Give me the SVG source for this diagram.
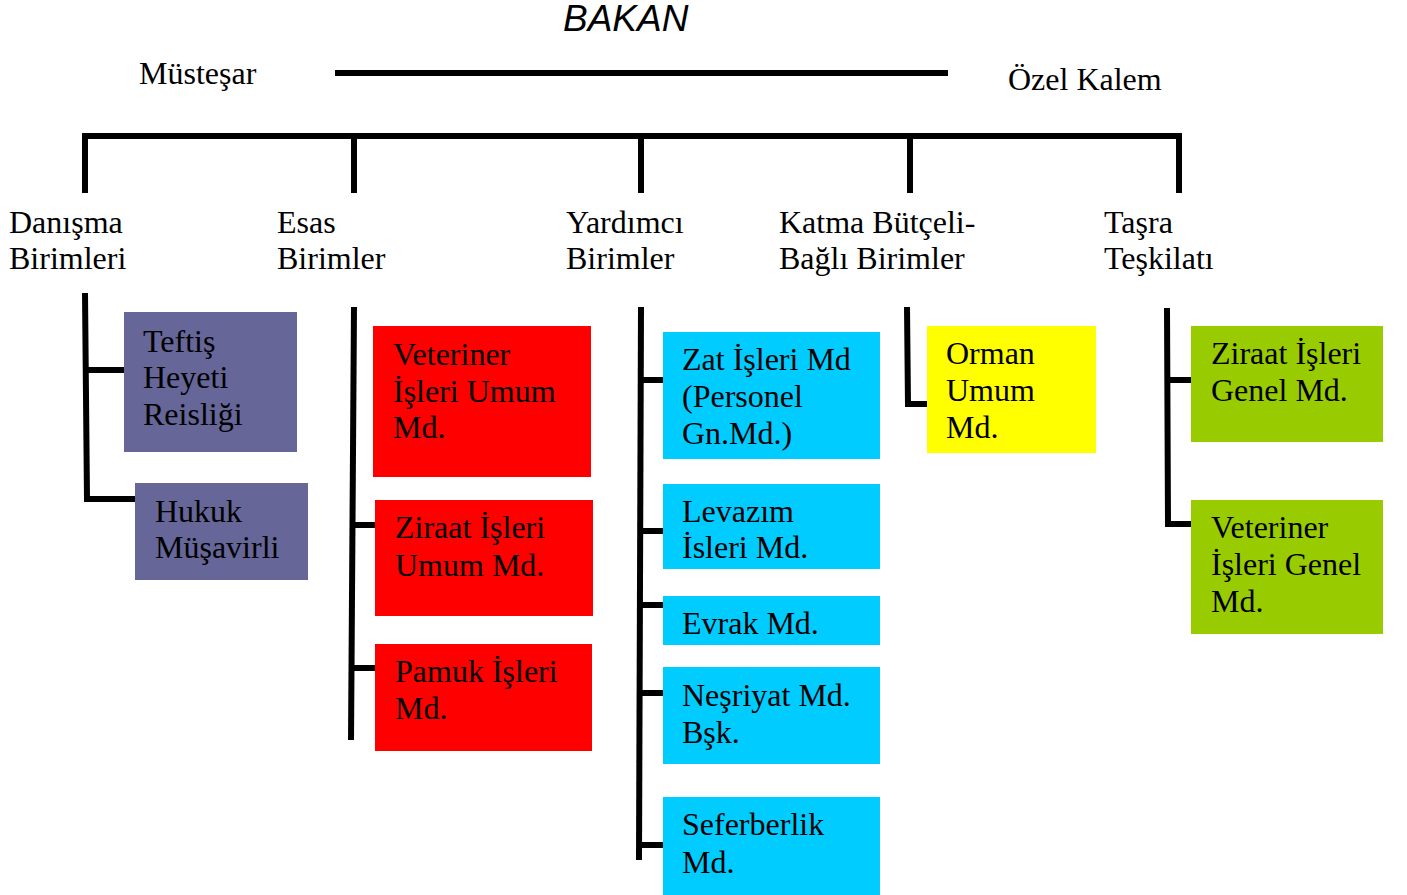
<svg xmlns="http://www.w3.org/2000/svg" width="1407" height="895" viewBox="0 0 1407 895">
<style>
.t{font-family:"Liberation Serif","Times New Roman",serif;font-size:32px;fill:#000}
.b{font-family:"Liberation Sans",Arial,sans-serif;font-size:37px;font-style:italic;fill:#000}
.ln{stroke:#000;stroke-width:6;fill:none;stroke-linecap:butt;stroke-linejoin:miter}
.pu{fill:#666699}.rd{fill:#FF0000}.bl{fill:#00CCFF}.ye{fill:#FFFF00}.gr{fill:#99CC00}
</style>
<rect width="1407" height="895" fill="#fff"/>
<g id="connectors">
<line class="ln" x1="335" y1="73" x2="948" y2="73"/>
<polyline class="ln" points="85,193 85,136 1179,136 1179,193"/>
<line class="ln" x1="354" y1="136" x2="354" y2="193"/>
<line class="ln" x1="641" y1="136" x2="641" y2="193"/>
<line class="ln" x1="910" y1="136" x2="910" y2="193"/>
<polyline class="ln" points="85,293 87,499 135,499"/>
<line class="ln" x1="86" y1="370" x2="124" y2="370"/>
<line class="ln" x1="354" y1="307" x2="351" y2="740"/>
<line class="ln" x1="353" y1="525" x2="375" y2="525"/>
<line class="ln" x1="352" y1="668" x2="375" y2="668"/>
<line class="ln" x1="641" y1="307" x2="639" y2="860"/>
<line class="ln" x1="641" y1="380" x2="663" y2="380"/>
<line class="ln" x1="640" y1="531" x2="663" y2="531"/>
<line class="ln" x1="640" y1="605" x2="663" y2="605"/>
<line class="ln" x1="640" y1="693" x2="663" y2="693"/>
<line class="ln" x1="639" y1="845" x2="663" y2="845"/>
<polyline class="ln" points="907,307 908,404 927,404"/>
<polyline class="ln" points="1167,308 1168,524 1191,524"/>
<line class="ln" x1="1167" y1="380" x2="1191" y2="380"/>
</g>
<g id="bakan"><text class="b" x="563" y="31">BAKAN</text></g>
<g id="mustesar"><text class="t" x="139" y="84">Müsteşar</text></g>
<g id="ozel-kalem"><text class="t" x="1008" y="90">Özel Kalem</text></g>
<g id="danisma"><text class="t" x="9" y="233">Danışma</text><text class="t" x="9" y="269">Birimleri</text></g>
<g id="esas"><text class="t" x="277" y="233">Esas</text><text class="t" x="277" y="269">Birimler</text></g>
<g id="yardimci"><text class="t" x="566" y="233">Yardımcı</text><text class="t" x="566" y="269">Birimler</text></g>
<g id="katma"><text class="t" x="779" y="233">Katma Bütçeli-</text><text class="t" x="779" y="269">Bağlı Birimler</text></g>
<g id="tasra"><text class="t" x="1104" y="233">Taşra</text><text class="t" x="1104" y="269">Teşkilatı</text></g>
<g id="teftis"><rect class="pu" x="124" y="312" width="173" height="140"/><text class="t" x="143" y="352">Teftiş</text><text class="t" x="143" y="388">Heyeti</text><text class="t" x="143" y="425">Reisliği</text></g>
<g id="hukuk"><rect class="pu" x="135" y="483" width="173" height="97"/><text class="t" x="155" y="522">Hukuk</text><text class="t" x="155" y="558">Müşavirli</text></g>
<g id="veteriner-umum"><rect class="rd" x="373" y="326" width="218" height="151"/><text class="t" x="393" y="365">Veteriner</text><text class="t" x="393" y="402">İşleri Umum</text><text class="t" x="393" y="438">Md.</text></g>
<g id="ziraat-umum"><rect class="rd" x="375" y="500" width="218" height="116"/><text class="t" x="395" y="538">Ziraat İşleri</text><text class="t" x="395" y="576">Umum Md.</text></g>
<g id="pamuk"><rect class="rd" x="375" y="644" width="217" height="107"/><text class="t" x="395" y="682">Pamuk İşleri</text><text class="t" x="395" y="719">Md.</text></g>
<g id="zat"><rect class="bl" x="663" y="332" width="217" height="127"/><text class="t" x="682" y="370">Zat İşleri Md</text><text class="t" x="682" y="407">(Personel</text><text class="t" x="682" y="444">Gn.Md.)</text></g>
<g id="levazim"><rect class="bl" x="663" y="484" width="217" height="85"/><text class="t" x="682" y="522">Levazım</text><text class="t" x="682" y="558">İsleri Md.</text></g>
<g id="evrak"><rect class="bl" x="663" y="596" width="217" height="49"/><text class="t" x="682" y="634">Evrak Md.</text></g>
<g id="nesriyat"><rect class="bl" x="663" y="667" width="217" height="97"/><text class="t" x="682" y="706">Neşriyat Md.</text><text class="t" x="682" y="743">Bşk.</text></g>
<g id="seferberlik"><rect class="bl" x="663" y="797" width="217" height="98"/><text class="t" x="682" y="835">Seferberlik</text><text class="t" x="682" y="873">Md.</text></g>
<g id="orman"><rect class="ye" x="927" y="326" width="169" height="127"/><text class="t" x="946" y="364">Orman</text><text class="t" x="946" y="401">Umum</text><text class="t" x="946" y="438">Md.</text></g>
<g id="ziraat-genel"><rect class="gr" x="1191" y="326" width="192" height="116"/><text class="t" x="1211" y="364">Ziraat İşleri</text><text class="t" x="1211" y="401">Genel Md.</text></g>
<g id="veteriner-genel"><rect class="gr" x="1191" y="500" width="192" height="134"/><text class="t" x="1211" y="538">Veteriner</text><text class="t" x="1211" y="575">İşleri Genel</text><text class="t" x="1211" y="612">Md.</text></g>
</svg>
